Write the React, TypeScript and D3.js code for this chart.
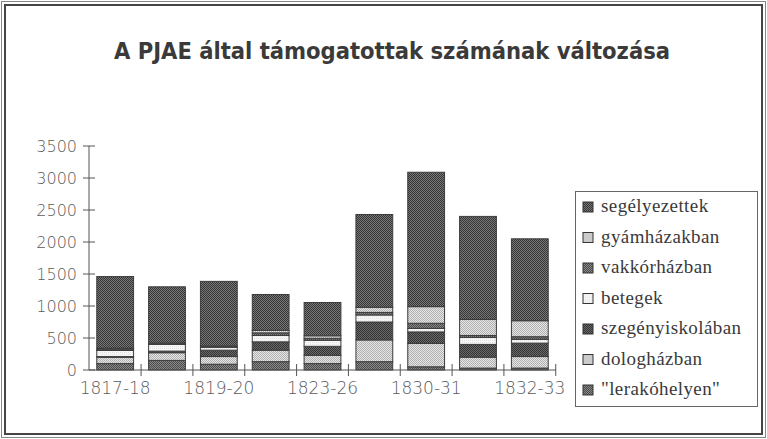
import * as d3 from "d3";

const periods = ["1817-18", "1818-19", "1819-20", "1820-23", "1823-26", "1826-29", "1830-31", "1831-32", "1832-33"];
const shownLabels = ["1817-18", "1819-20", "1823-26", "1830-31", "1832-33"];

// bottom to top stacking order
const seriesNames = ["\"lerakóhelyen\"", "dologházban", "szegényiskolában", "betegek", "vakkórházban", "gyámházakban", "segélyezettek"];

const lerako = [100, 150, 90, 130, 100, 130, 50, 30, 30];
const dolog = [100, 120, 120, 180, 130, 340, 365, 170, 180];
const szegeny = [10, 25, 100, 130, 140, 280, 180, 200, 210];
const betegek = [95, 105, 45, 100, 95, 110, 55, 110, 60];
const vakkor = [20, 20, 20, 40, 30, 40, 80, 30, 40];
const gyam = [15, 0, 0, 40, 40, 80, 260, 250, 250];
const segely = [1120, 880, 1010, 560, 520, 1450, 2100, 1610, 1280];

const yTicks = [0, 500, 1000, 1500, 2000, 2500, 3000, 3500];

const fills = ["url(#pDark3)", "url(#pLight)", "url(#pDark2)", "url(#pWhite)", "url(#pDark3)", "url(#pLight)", "url(#pDark1)"];

const width = 767;
const height = 439;
const marginLeft = 89;
const plotRight = 556;
const plotTop = 146;
const plotBottom = 370;

export default function App() {
  const rows = periods.map((p, i) => ({
    period: p,
    [seriesNames[0]]: lerako[i],
    [seriesNames[1]]: dolog[i],
    [seriesNames[2]]: szegeny[i],
    [seriesNames[3]]: betegek[i],
    [seriesNames[4]]: vakkor[i],
    [seriesNames[5]]: gyam[i],
    [seriesNames[6]]: segely[i],
  }));
  const stacked = d3.stack<any>().keys(seriesNames)(rows);

  const x = d3.scaleBand().domain(periods).range([marginLeft, plotRight]).paddingInner(0.29).paddingOuter(0.15);
  const y = d3.scaleLinear().domain([0, 3500]).range([plotBottom, plotTop]);
  const step = x.step();

  const legendItems = [...seriesNames].reverse();
  const legendFills = [...fills].reverse();

  return (
    <svg width={width} height={height} style={{ position: "absolute", left: 0, top: 0, background: "#fff" }}>
      <defs>
        <pattern id="pDark1" width="2" height="2" patternUnits="userSpaceOnUse">
          <rect width="2" height="2" fill="#777" />
          <rect width="1" height="1" fill="#363636" />
          <rect x="1" y="1" width="1" height="1" fill="#363636" />
        </pattern>
        <pattern id="pDark2" width="2" height="2" patternUnits="userSpaceOnUse">
          <rect width="2" height="2" fill="#6a6a6a" />
          <rect width="1" height="1" fill="#333" />
          <rect x="1" y="1" width="1" height="1" fill="#333" />
        </pattern>
        <pattern id="pDark3" width="2" height="2" patternUnits="userSpaceOnUse">
          <rect width="2" height="2" fill="#8a8a8a" />
          <rect width="1" height="1" fill="#4a4a4a" />
          <rect x="1" y="1" width="1" height="1" fill="#4a4a4a" />
        </pattern>
        <pattern id="pLight" width="2" height="2" patternUnits="userSpaceOnUse">
          <rect width="2" height="2" fill="#e6e6e6" />
          <rect width="1" height="1" fill="#b0b0b0" />
          <rect x="1" y="1" width="1" height="1" fill="#b0b0b0" />
        </pattern>
        <pattern id="pWhite" width="2" height="2" patternUnits="userSpaceOnUse">
          <rect width="2" height="2" fill="#f6f6f6" />
          <rect width="1" height="1" fill="#e4e4e4" />
        </pattern>
      </defs>

      {/* frame */}
      <rect x={1.5} y={1.5} width={width - 3} height={height - 3} fill="none" stroke="#888" strokeWidth={1} />
      <rect x={5} y={5} width={width - 10} height={height - 10} fill="none" stroke="#444" strokeWidth={2} />

      <text x={392} y={59} textAnchor="middle" fontFamily="DejaVu Sans Condensed, DejaVu Sans" fontWeight="bold" fontSize={23.5} fill="#3a3a3a">
        A PJAE által támogatottak számának változása
      </text>

      {/* y axis */}
      <line x1={marginLeft} x2={marginLeft} y1={plotTop} y2={plotBottom} stroke="#555" strokeWidth={1} />
      {yTicks.map((t) => (
        <g key={t}>
          <line x1={marginLeft - 6} x2={marginLeft + 6} y1={y(t)} y2={y(t)} stroke="#555" strokeWidth={1} />
          <text x={77} y={y(t) + 6} textAnchor="end" fontFamily="DejaVu Sans" fontWeight={300} fontSize={16} fill="#5a5a5a">
            {t}
          </text>
        </g>
      ))}

      {/* bars */}
      {stacked.map((s, si) => (
        <g key={s.key}>
          {s.map((d, i) => {
            const h = y(d[0]) - y(d[1]);
            if (h <= 0) return null;
            return (
              <rect
                key={i}
                x={x(periods[i])}
                y={y(d[1])}
                width={x.bandwidth()}
                height={h}
                fill={fills[si]}
                stroke="#3c3c3c"
                strokeWidth={1}
              />
            );
          })}
        </g>
      ))}

      {/* x axis */}
      <line x1={marginLeft} x2={plotRight} y1={plotBottom} y2={plotBottom} stroke="#555" strokeWidth={1} />
      {periods.map((p) => (
        <line key={p} x1={(x(p) as number) + x.bandwidth() + (step - x.bandwidth()) / 2} x2={(x(p) as number) + x.bandwidth() + (step - x.bandwidth()) / 2} y1={plotBottom - 6} y2={plotBottom + 6} stroke="#555" strokeWidth={1} />
      ))}
      {shownLabels.map((p) => (
        <text key={p} x={(x(p) as number) + x.bandwidth() / 2} y={394} textAnchor="middle" fontFamily="DejaVu Sans" fontWeight={300} fontSize={17} fill="#5a5a5a">
          {p}
        </text>
      ))}

      {/* legend */}
      <rect x={575.5} y={191.5} width={182} height={215} fill="#fff" stroke="#666" strokeWidth={1} />
      {legendItems.map((name, i) => (
        <g key={name} transform={`translate(583, ${207 + i * 30.5})`}>
          <rect x={0} y={-5} width={10} height={10} fill={legendFills[i]} stroke="#333" strokeWidth={1} />
          <text x={18} y={5} fontFamily="Liberation Serif" fontSize={19} fill="#3a3a3a" letterSpacing={0.4}>
            {name}
          </text>
        </g>
      ))}
    </svg>
  );
}
